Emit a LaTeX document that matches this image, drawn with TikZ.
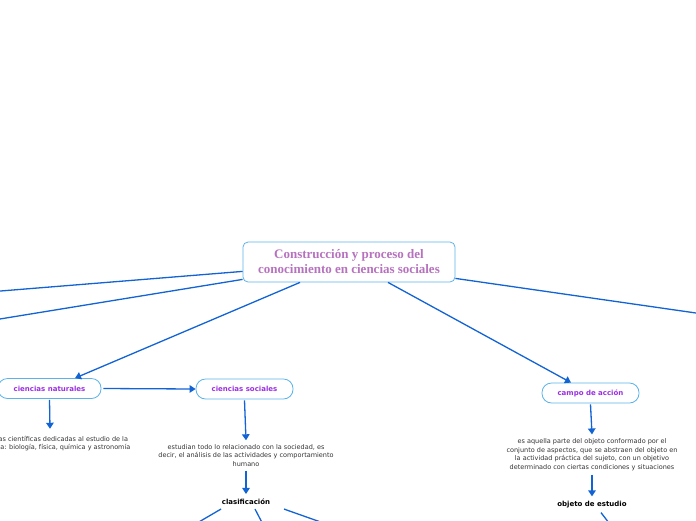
\documentclass[tikz,border=0pt]{standalone}
\usepackage{fontspec}
\setmainfont{DejaVu Sans}
\newfontfamily\titlefont{Liberation Serif}
\usetikzlibrary{arrows.meta}
\definecolor{linec}{HTML}{1263D4}
\definecolor{boxc}{HTML}{5DB2EA}
\definecolor{titc}{HTML}{B672BE}
\definecolor{labc}{HTML}{9B2FE0}
\definecolor{txtc}{HTML}{333333}
\begin{document}
\begin{tikzpicture}[x=1pt,y=-1pt,
 conn/.style={draw=linec, line width=1.3pt},
 arr/.style={conn, -{Triangle[length=6pt,width=7.5pt]}},
 pill/.style={draw=boxc, line width=0.8pt, rounded corners=9.5pt, minimum width=97pt, minimum height=20pt, inner sep=0pt, font=\fontsize{7}{8}\selectfont\bfseries, text=labc},
 desc/.style={align=center, font=\fontsize{6.5}{8.5}\selectfont, text=txtc, inner sep=1pt},
 head/.style={font=\fontsize{7}{8}\selectfont\bfseries, text=black, inner sep=1pt}
]
\useasboundingbox (0,0) rectangle (696,520);
\clip (0,0) rectangle (696,520);
\node[draw=boxc, line width=0.8pt, rounded corners=5pt, minimum width=212pt, minimum height=40pt, align=center, text=titc, font=\titlefont\bfseries\fontsize{13}{15}\selectfont] (root) at (349,262) {Construcción y proceso del\\conocimiento en ciencias sociales};

\node[pill, minimum width=103pt] (nat) at (49.5,388.5) {ciencias naturales};
\node[pill] (soc) at (244.5,389) {ciencias sociales};
\node[pill] (campo) at (590.5,393) {campo de acción};

\node[desc] (d1) at (50,443.5) {disciplinas científicas dedicadas al estudio de la\\naturaleza: biología, física, química y astronomía};
\node[desc] (d2) at (246,455.5) {estudian todo lo relacionado con la sociedad, es\\decir, el análisis de las actividades y comportamiento\\humano};
\node[desc] (d3) at (592,454.5) {es aquella parte del objeto conformado por el\\conjunto de aspectos, que se abstraen del objeto en\\la actividad práctica del sujeto, con un objetivo\\determinado con ciertas condiciones y situaciones};

\node[head] (clas) at (246,502) {clasificación};
\node[head] (obj) at (592,505) {objeto de estudio};

\coordinate (e1) at (-2,291.2);
\coordinate (e2) at (-2,319.3);
\coordinate (e5) at (698,313.3);
\coordinate (c1) at (198,522.5);
\coordinate (c2) at (262,522.5);
\coordinate (c3) at (322,522.5);
\coordinate (o1) at (609,523);

\draw[conn] ([yshift=11pt]root.south west) -- (e1);
\draw[conn] ([yshift=3pt]root.south west) -- (e2);
\draw[conn] ([yshift=4pt]root.south east) -- (e5);
\draw[arr] ([xshift=-49pt]root.south) -- ([xshift=25.5pt]nat.north);
\draw[arr] ([xshift=39pt]root.south) -- ([xshift=-19.5pt]campo.north);
\draw[arr] ([xshift=2pt]nat.east) -- (soc.west);
\draw[arr] ([yshift=-1pt]nat.south) -- ([yshift=6pt]d1.north);
\draw[arr] ([yshift=-1pt]soc.south) -- ([yshift=3pt]d2.north);
\draw[arr] ([yshift=-3pt]d2.south) -- ([yshift=4pt]clas.north);
\draw[arr] ([yshift=-1pt]campo.south) -- ([yshift=3pt]d3.north);
\draw[arr] ([yshift=-3pt]d3.south) -- ([yshift=4pt]obj.north);

\draw[conn] ([xshift=-25pt,yshift=-3pt]clas.south) -- (c1);
\draw[conn] ([xshift=9pt,yshift=-3pt]clas.south) -- (c2);
\draw[conn] ([xshift=38pt,yshift=-3pt]clas.south) -- (c3);
\draw[conn] ([xshift=9pt,yshift=-3pt]obj.south) -- (o1);
\end{tikzpicture}
\end{document}
